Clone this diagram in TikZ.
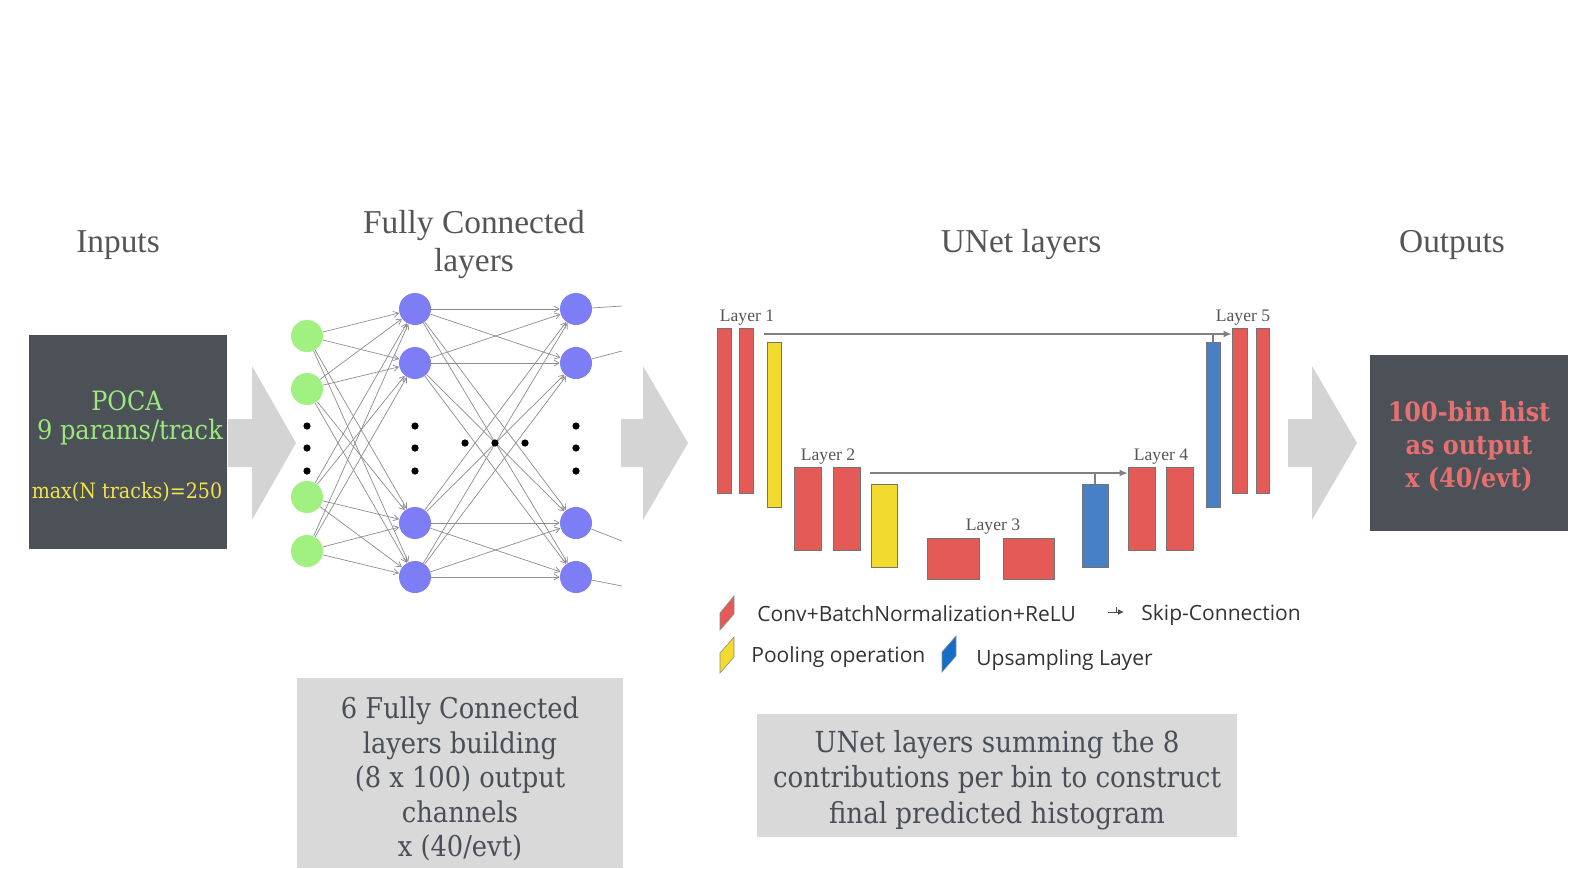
\documentclass[tikz,border=0pt]{standalone}
\usepackage{fontspec}
\setmainfont{Liberation Serif}
\newfontfamily\boxfont[FakeStretch=0.9]{DejaVu Serif}
\newfontfamily\legendfont{Open Sans}
\usetikzlibrary{arrows.meta,fit,calc}

\definecolor{panel}{RGB}{76,80,87}
\definecolor{inputgreen}{RGB}{155,232,125}
\definecolor{inputyellow}{RGB}{240,228,80}
\definecolor{outred}{RGB}{230,112,112}
\definecolor{notegray}{RGB}{217,217,217}
\definecolor{notetext}{RGB}{74,79,87}
\definecolor{flowgray}{RGB}{212,212,212}
\definecolor{titlegray}{RGB}{85,85,85}
\definecolor{neurongreen}{RGB}{160,240,130}
\definecolor{neuronblue}{RGB}{125,125,245}
\definecolor{convred}{RGB}{227,90,87}
\definecolor{poolyellow}{RGB}{242,218,47}
\definecolor{upblue}{RGB}{72,128,200}
\definecolor{keyblue}{RGB}{20,110,200}
\definecolor{wiregray}{RGB}{140,140,140}

\begin{document}
\begin{tikzpicture}[x=0.5pt,y=-0.5pt,
  title/.style={text=titlegray, font=\fontsize{16.7}{19}\selectfont, align=center},
  layerlabel/.style={text=titlegray, font=\fontsize{8.8}{10}\selectfont, inner sep=0},
  panelbox/.style={fill=panel, inner sep=0, minimum width=99pt},
  notebox/.style={fill=notegray, inner sep=0},
  notetext/.style={text=notetext, align=center, inner sep=0},
  neuron/.style={circle, inner sep=0, minimum size=16pt},
  gn/.style={neuron, fill=neurongreen},
  bn/.style={neuron, fill=neuronblue},
  wire/.style={draw=wiregray, line width=0.35pt, -{Straight Barb[length=2.5pt,width=3pt]}},
  stub/.style={draw=wiregray, line width=0.35pt},
  block/.style={inner sep=0, draw=black!55, line width=0.45pt},
  conv/.style={block, fill=convred},
  pool/.style={block, fill=poolyellow},
  upsm/.style={block, fill=upblue},
  skipline/.style={draw=gray, line width=0.7pt, -{Latex[length=4pt,width=3.5pt]}},
  skiptick/.style={draw=gray, line width=0.7pt},
  legendtext/.style={text=black!80, font=\legendfont\fontsize{10.5}{12}\selectfont, anchor=west, inner sep=0},
  flow/.style={fill=flowgray},
]
\useasboundingbox (0,0) rectangle (1577,868);

% ---------- section titles ----------
\node[title] (tin)  at (118,245) {Inputs};
\node[title] (tfc)  at (474,245) {Fully Connected\\layers};
\node[title] (tun)  at (1021,245) {UNet layers};
\node[title] (tout) at (1452,245) {Outputs};

% ---------- input panel ----------
\node[panelbox, minimum height=107pt] (inbox) at (128,442) {};
\node[text=inputgreen, font=\boxfont\fontsize{13.3}{15}\selectfont] (poca) at (127,401) {POCA};
\node[text=inputgreen, font=\boxfont\fontsize{13.4}{15}\selectfont] (params) at (130,432) {9 params/track};
\node[text=inputyellow, font=\boxfont\fontsize{10.6}{12}\selectfont] (maxn) at (127,492) {max(N tracks)=250};

% ---------- output panel ----------
\node[panelbox, minimum height=88pt] (outbox) at (1469,443) {};
\node[text=outred, align=center, font=\boxfont\bfseries\fontsize{13.3}{16.5}\selectfont] (hist) at (1469,446) {100-bin hist\\as output\\x (40/evt)};

% ---------- flow arrows ----------
\fill[flow] (228,419) -- (252,419) -- (252,366) -- (296,443) -- (252,520) -- (252,467) -- (228,467) -- cycle;
\fill[flow] (621,419) -- (643,419) -- (643,366) -- (688,443) -- (643,520) -- (643,467) -- (621,467) -- cycle;
\fill[flow] (1288,419) -- (1312,419) -- (1312,366) -- (1357,443) -- (1312,520) -- (1312,467) -- (1288,467) -- cycle;

% ---------- fully connected network ----------
\foreach \n/\y in {1/336,2/389,3/497,4/551} \node[gn] (g\n) at (307,\y) {};
\foreach \n/\y in {1/309,2/363,3/523,4/577} \node[bn] (h\n) at (415,\y) {};
\foreach \n/\y in {1/309,2/363,3/523,4/577} \node[bn] (o\n) at (576,\y) {};
\foreach \i in {1,...,4}{
  \foreach \j in {1,...,4}{
    \draw[wire] (g\i) -- (h\j);
    \draw[wire] (h\i) -- (o\j);
  }
}
\coordinate (e1) at (622,306);
\coordinate (e2) at (622,351);
\coordinate (e3) at (622,541);
\coordinate (e4) at (622,586);
\foreach \n in {1,...,4} \draw[stub] (o\n) -- (e\n);
% ellipsis dots
\foreach \x in {307,415,576}{
  \foreach \y in {426,448,471} \fill (\x,\y) circle[radius=1.8pt];
}
\foreach \x in {465,495,525} \fill (\x,443) circle[radius=1.8pt];

% ---------- UNet blocks ----------
\node[conv, fit={(717,328) (731,493)}] (r1a) {};
\node[conv, fit={(739,328) (753,493)}] (r1b) {};
\node[pool, fit={(767,342) (781,507)}] (y1) {};
\node[conv, fit={(794,467) (821,550)}] (r2a) {};
\node[conv, fit={(833,467) (860,550)}] (r2b) {};
\node[pool, fit={(871,484) (897,567)}] (y2) {};
\node[conv, fit={(927,538) (979,579)}] (r3a) {};
\node[conv, fit={(1003,538) (1054,579)}] (r3b) {};
\node[upsm, fit={(1082,484) (1108,567)}] (b4) {};
\node[conv, fit={(1128,467) (1155,550)}] (r4a) {};
\node[conv, fit={(1166,467) (1193,550)}] (r4b) {};
\node[upsm, fit={(1206,342) (1220,507)}] (b5) {};
\node[conv, fit={(1232,328) (1247,493)}] (r5a) {};
\node[conv, fit={(1256,328) (1269,493)}] (r5b) {};

\node[layerlabel] (l1) at (747,318) {Layer 1};
\node[layerlabel] (l2) at (828,457) {Layer 2};
\node[layerlabel] (l3) at (993,527) {Layer 3};
\node[layerlabel] (l4) at (1161,457) {Layer 4};
\node[layerlabel] (l5) at (1243,318) {Layer 5};

% skip connections
\coordinate (s1) at (764,334);
\coordinate (s2) at (870,473);
\draw[skipline] (s1) -- (s1 -| r5a.west);
\draw[skiptick] (b5.north) -- (b5.north |- s1);
\draw[skipline] (s2) -- (s2 -| r4a.west);
\draw[skiptick] (b4.north) -- (b4.north |- s2);

% ---------- legend ----------
\filldraw[fill=convred, draw=black!45, line width=0.3pt] (720,613) -- (734,596) -- (734,614) -- (720,630) -- cycle;
\filldraw[fill=poolyellow, draw=black!45, line width=0.3pt] (720,653) -- (734,637) -- (734,657) -- (720,673) -- cycle;
\filldraw[fill=keyblue, draw=black!45, line width=0.3pt] (942,652) -- (956,636) -- (956,656) -- (942,672) -- cycle;
\node[legendtext] (lconv) at (757,614) {Conv+BatchNormalization+ReLU};
\coordinate (ka) at (1108,612);
\coordinate (kb) at (1124,612);
\draw[draw=black!70, line width=0.5pt, -{Latex[length=3pt,width=3pt]}] (ka) -- (kb);
\draw[draw=black!70, line width=0.5pt] ($(ka)!0.55!(kb)$) -- ++(0,-5);
\node[legendtext] (lskip) at (1141,615) {Skip-Connection};
\node[legendtext] (lpool) at (751,657) {Pooling operation};
\node[legendtext] (lup) at (976,660) {Upsampling Layer};

% ---------- notes ----------
\node[notebox, minimum width=163pt, minimum height=95pt] (note1) at (460,773) {};
\node[notetext, font=\boxfont\fontsize{14.3}{17.2}\selectfont] (note1t) at (460,779)
  {6 Fully Connected\\layers building\\(8 x 100) output\\channels\\x (40/evt)};
\node[notebox, minimum width=240pt, minimum height=61.5pt] (note2) at (997,775) {};
\node[notetext, font=\boxfont\fontsize{14.5}{17.6}\selectfont] (note2t) at (997,780)
  {UNet layers summing the 8\\contributions per bin to construct\\final predicted histogram};
\end{tikzpicture}
\end{document}
